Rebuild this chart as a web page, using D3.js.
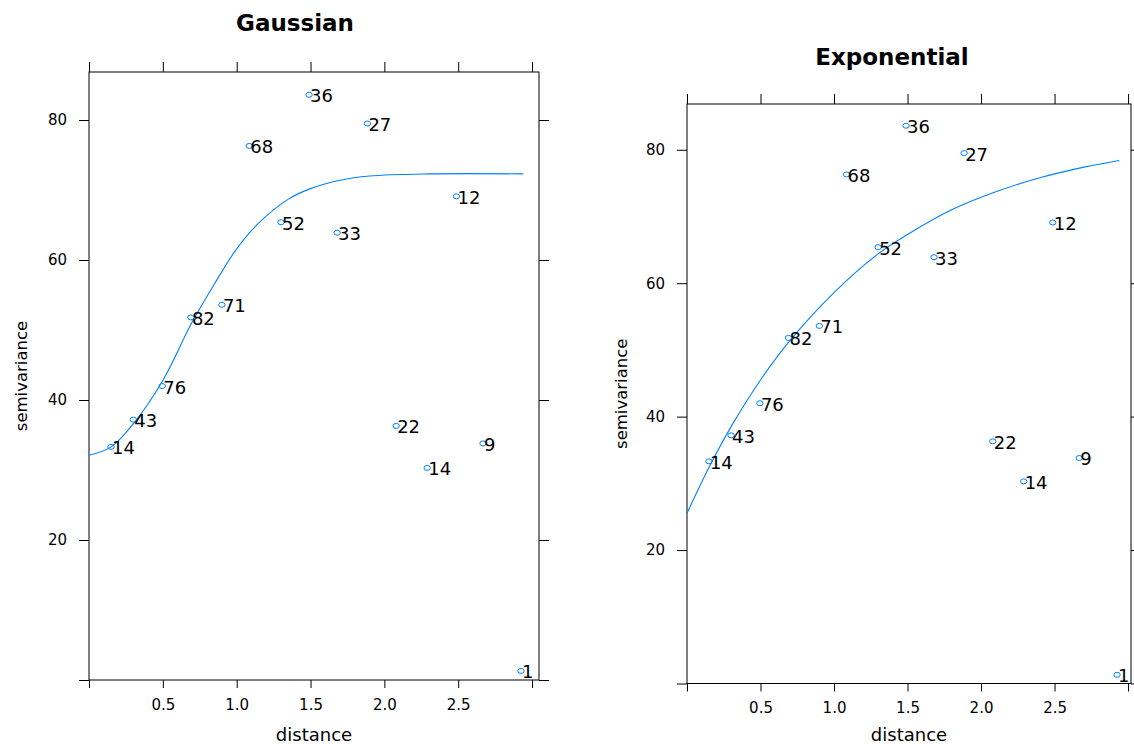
<!DOCTYPE html>
<html>
<head>
<meta charset="utf-8">
<script src="https://cdn.jsdelivr.net/npm/d3@7"></script>
<style>
    body { margin: 0; background: #fff; }
    svg text { font-family: "DejaVu Sans", sans-serif; fill: #000; }
    .axis path { display: none; }
    .axis line { stroke: #000; }
    .frame { fill: none; stroke: #000; }
</style>
</head>
<body>
<div id="chart"></div>
<script>

// sample variogram (same bins in both panels)
const distances    = [0.149, 0.30, 0.496, 0.69, 0.90, 1.085, 1.30, 1.49, 1.68, 1.885, 2.08, 2.29, 2.488, 2.668, 2.925];
const semivariance = [33.3, 37.2, 42.0, 51.8, 53.6, 76.3, 65.4, 83.6, 63.9, 79.5, 36.3, 30.3, 69.1, 33.8, 1.3];
const pairCounts   = [14, 43, 76, 82, 71, 68, 52, 36, 33, 27, 22, 14, 12, 9, 1];

// fitted model lines
const gaussDist  = [0, 0.15, 0.3, 0.5, 0.7, 0.85, 1.0, 1.15, 1.35, 1.5, 1.7, 1.9, 2.3, 2.94];
const gaussGamma = [32.1, 33.3, 36.6, 42.8, 51.2, 56.6, 61.6, 65.3, 68.7, 70.2, 71.4, 72.0, 72.3, 72.3];
const expDist    = [0, 0.15, 0.3, 0.5, 0.7, 1.0, 1.3, 1.5, 1.8, 2.1, 2.4, 2.7, 2.94];
const expGamma   = [25.5, 32.4, 38.5, 45.5, 51.4, 58.6, 64.4, 67.3, 71.0, 73.7, 75.8, 77.4, 78.4];

// ticks
const xTicks = [0, 0.5, 1, 1.5, 2, 2.5, 3];
const xTickLabels = ["", "0.5", "1.0", "1.5", "2.0", "2.5", ""];
const yTicks = [0, 20, 40, 60, 80];
const yTickLabels = ["", "20", "40", "60", "80"];

const yMax = 86.86;


class VariogramPanel {

    constructor(_svg, _opts, _line) {
        this.svg = _svg;
        this.opts = _opts;
        this.line = _line;
        this.initVis();
    }

    initVis() {
        let vis = this;
        let o = vis.opts;

        vis.g = vis.svg.append("g");

        vis.x = d3.scaleLinear()
            .domain([0, o.xMax])
            .range([o.left, o.right]);

        vis.y = d3.scaleLinear()
            .domain([0, yMax])
            .range([o.bottom, o.top]);

        let xFmt = d => xTickLabels[xTicks.indexOf(d)];
        let yFmt = d => yTickLabels[yTicks.indexOf(d)];

        // axes on all four sides, labels only left + bottom
        vis.g.append("g")
            .attr("class", "axis")
            .attr("transform", "translate(0," + o.bottom + ")")
            .call(d3.axisBottom(vis.x).tickValues(xTicks).tickFormat(xFmt).tickSize(8).tickPadding(11))
            .selectAll("text").style("font-size", "15px").style("font-family", null);

        vis.g.append("g")
            .attr("class", "axis")
            .attr("transform", "translate(0," + o.top + ")")
            .call(d3.axisTop(vis.x).tickValues(xTicks).tickFormat("").tickSize(10));

        vis.g.append("g")
            .attr("class", "axis")
            .attr("transform", "translate(" + o.left + ",0)")
            .call(d3.axisLeft(vis.y).tickValues(yTicks).tickFormat(yFmt).tickSize(10).tickPadding(12))
            .selectAll("text").style("font-size", "15px").style("font-family", null);

        vis.g.append("g")
            .attr("class", "axis")
            .attr("transform", "translate(" + o.right + ",0)")
            .call(d3.axisRight(vis.y).tickValues(yTicks).tickFormat("").tickSize(10));

        vis.g.selectAll(".axis text").attr("fill", "#000");

        vis.g.append("rect")
            .attr("class", "frame")
            .attr("x", o.left)
            .attr("y", o.top)
            .attr("width", o.right - o.left)
            .attr("height", o.bottom - o.top);

        // titles
        vis.g.append("text")
            .attr("x", o.titleX)
            .attr("y", o.titleY)
            .attr("text-anchor", "middle")
            .style("font-size", "23px")
            .style("font-weight", "bold")
            .text(o.title);

        vis.g.append("text")
            .attr("x", (o.left + o.right) / 2)
            .attr("y", 741)
            .attr("text-anchor", "middle")
            .style("font-size", "18px")
            .attr("fill", "#222")
            .text("distance");

        vis.g.append("text")
            .attr("transform", "translate(" + o.ylabX + "," + (o.top + o.bottom) / 2 + ") rotate(-90)")
            .attr("text-anchor", "middle")
            .style("font-size", "16.5px")
            .attr("fill", "#222")
            .text("semivariance");

        vis.updateVis();
    }

    updateVis() {
        let vis = this;

        let pts = distances.map((d, i) => ({ dist: d, gamma: semivariance[i], np: pairCounts[i] }));
        let model = vis.line.dist.map((d, i) => [d, vis.line.gamma[i]]);

        let lineGen = d3.line()
            .x(d => vis.x(d[0]))
            .y(d => vis.y(d[1]))
            .curve(d3.curveCatmullRom.alpha(0.5));

        vis.g.append("path")
            .datum(model)
            .attr("d", lineGen)
            .attr("fill", "none")
            .attr("stroke", "#0080ff")
            .attr("stroke-width", 1.1);

        vis.g.selectAll(".pt")
            .data(pts)
            .enter().append("ellipse")
            .attr("class", "pt")
            .attr("cx", d => vis.x(d.dist))
            .attr("cy", d => vis.y(d.gamma))
            .attr("rx", 3.2)
            .attr("ry", 2.5)
            .attr("fill", "none")
            .attr("stroke", "#0080ff")
            .attr("stroke-width", 1);

        vis.g.selectAll(".np")
            .data(pts)
            .enter().append("text")
            .attr("class", "np")
            .attr("x", d => vis.x(d.dist) + 1)
            .attr("y", d => vis.y(d.gamma) + 7.5)
            .style("font-size", "18px")
            .text(d => d.np);
    }
}


let svg = d3.select("#chart").append("svg")
    .attr("width", 1134)
    .attr("height", 744);

new VariogramPanel(svg,
    { left: 89, right: 539, top: 72, bottom: 680, xMax: 3.047,
      title: "Gaussian", titleX: 295, titleY: 30.5, ylabX: 27 },
    { dist: gaussDist, gamma: gaussGamma });

new VariogramPanel(svg,
    { left: 687, right: 1131, top: 104, bottom: 683.5, xMax: 3.02,
      title: "Exponential", titleX: 892, titleY: 64.5, ylabX: 627 },
    { dist: expDist, gamma: expGamma });

</script>
</body>
</html>
